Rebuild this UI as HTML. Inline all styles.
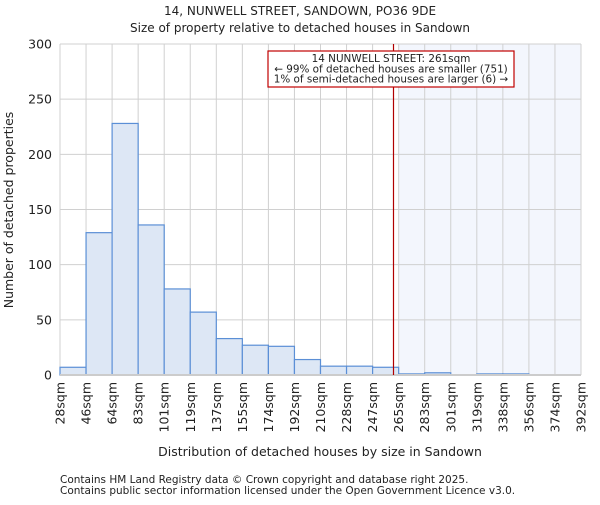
<!DOCTYPE html>
<html><head><meta charset="utf-8"><style>
body{margin:0;background:#fff;}
svg text{font-family:"DejaVu Sans","Liberation Sans",sans-serif;fill:#222;}
</style></head><body>
<svg id="chart" width="600" height="500" xmlns="http://www.w3.org/2000/svg">
<text x="300" y="15" font-size="12" text-anchor="middle">14, NUNWELL STREET, SANDOWN, PO36 9DE</text>
<text x="300" y="32" font-size="12" text-anchor="middle">Size of property relative to detached houses in Sandown</text>
<g id="plot"></g>
<text x="320" y="456" font-size="12.5" text-anchor="middle">Distribution of detached houses by size in Sandown</text>
<text transform="translate(13,210) rotate(-90)" font-size="12.5" text-anchor="middle">Number of detached properties</text>
<text x="60" y="483" font-size="10.5" fill="#444">Contains HM Land Registry data © Crown copyright and database right 2025.</text>
<text x="60" y="494" font-size="10.5" fill="#444">Contains public sector information licensed under the Open Government Licence v3.0.</text>
</svg>
<script>
const binLabels=["28sqm","46sqm","64sqm","83sqm","101sqm","119sqm","137sqm","155sqm","174sqm","192sqm","210sqm","228sqm","247sqm","265sqm","283sqm","301sqm","319sqm","338sqm","356sqm","374sqm","392sqm"];
const counts=[7,129,228,136,78,57,33,27,26,14,8,8,7,1,2,0,1,1,0,0];
const yTicks=[0,50,100,150,200,250,300];
const xMin=28, xMax=392, subjectSize=261;
const annotation=["14 NUNWELL STREET: 261sqm","← 99% of detached houses are smaller (751)","1% of semi-detached houses are larger (6) →"];

const L=60,R=581,T=44,B=375,NS="http://www.w3.org/2000/svg";
const g=document.getElementById('plot');
const n=counts.length, bw=(R-L)/n;
const xs=v=>L+(v-xMin)/(xMax-xMin)*(R-L);
const ys=v=>B-v/300*(B-T);
function mk(t,a){const e=document.createElementNS(NS,t);for(const k in a)e.setAttribute(k,a[k]);g.appendChild(e);return e;}
const shadeStart=Math.floor((subjectSize-xMin)/(xMax-xMin)*n+1);
let e=mk('rect',{x:L+shadeStart*bw,y:T,width:R-(L+shadeStart*bw),height:B-T,fill:'#f3f6fd'});


yTicks.forEach(t=>{
 let l=mk('line',{x1:L,x2:R,y1:ys(t),y2:ys(t),stroke:'#d0d0d0'});
 
 
 let tx=mk('text',{x:L-8,y:ys(t)+4.5,'font-size':'12.5','text-anchor':'end'});tx.textContent=t;
 
 
});
for(let i=0;i<=n;i++){
 let l=mk('line',{x1:L+i*bw,x2:L+i*bw,y1:T,y2:B,stroke:'#d0d0d0'});
 
 
}
counts.forEach((c,i)=>{
 if(c<=0)return;
 let r=mk('rect',{x:L+i*bw,y:ys(c),width:bw,height:B-ys(c),fill:'#dde7f5',stroke:'#5b8fd6','stroke-width':1.2});
 
 
});
binLabels.forEach((s,i)=>{
 const x=L+i*bw;
 let tx=mk('text',{transform:`translate(${x+4.5},382) rotate(-90)`,'font-size':'12.5','text-anchor':'end'});tx.textContent=s;
 
 
});
let ax=mk('line',{x1:L,x2:R,y1:B,y2:B,stroke:'#cccccc','stroke-width':2});


const sx=xs(subjectSize);
let ml=mk('line',{x1:sx,x2:sx,y1:T,y2:B,stroke:'#b00000','stroke-width':1.2});


let box=mk('rect',{x:268,y:51,width:246,height:36,fill:'#fff',stroke:'#c00000','stroke-width':1.2});


annotation.forEach((s,i)=>{
 let tx=mk('text',{x:391,y:62+i*10.3,'font-size':'10.4','text-anchor':'middle'});tx.textContent=s;
 
 
});
</script>
</body></html>
